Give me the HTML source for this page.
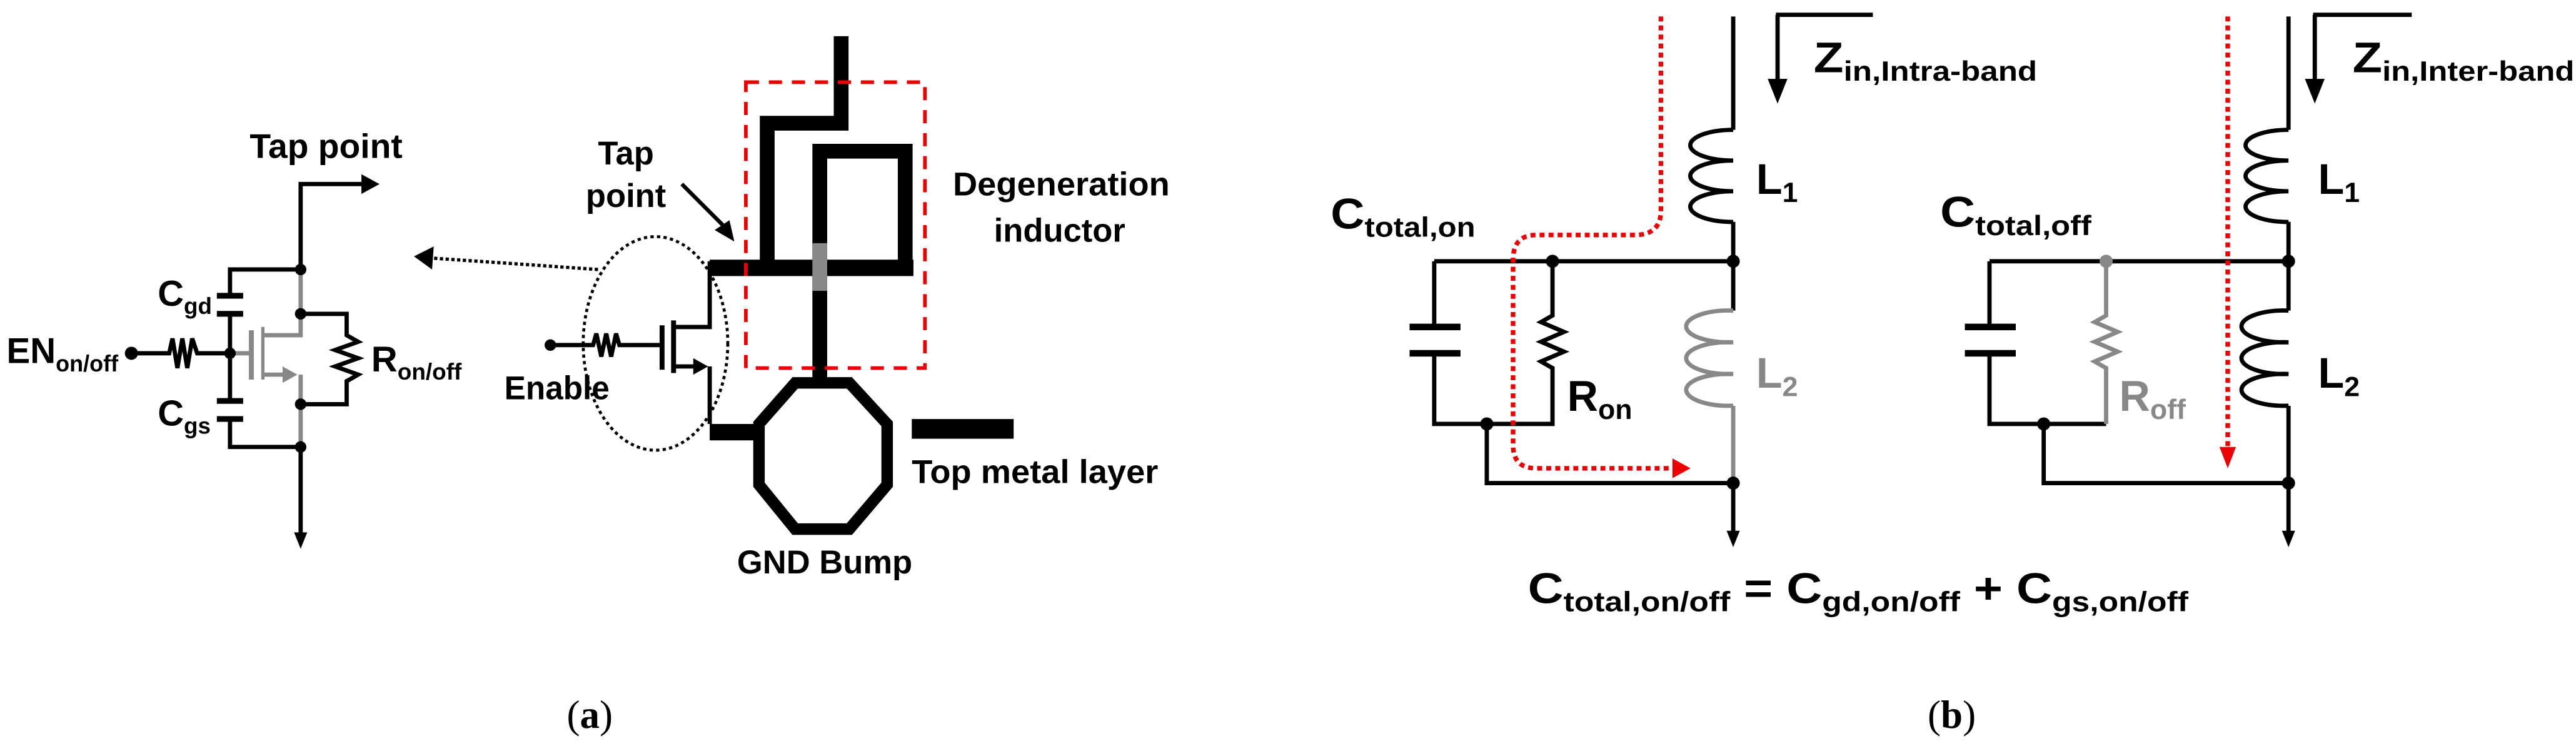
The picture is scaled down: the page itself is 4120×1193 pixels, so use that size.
<!DOCTYPE html>
<html><head><meta charset="utf-8"><style>
html,body{margin:0;padding:0;background:#fff;}
svg{display:block;}
text{font-family:"Liberation Sans",sans-serif;font-weight:bold;}
.cap{font-family:"Liberation Serif",serif;font-weight:normal;}
</style></head><body>
<svg width="4120" height="1193" viewBox="0 0 1568 454" xmlns="http://www.w3.org/2000/svg">
<g fill="none" stroke="#000" stroke-width="2.6">
<!-- ===== (a) left schematic ===== -->
<polyline points="183,164 183,112 222,112"/>
<path d="M220,106 L231,112 L220,118 Z" fill="#000" stroke="none"/>
<line x1="183" y1="164" x2="183" y2="191" stroke="#888"/>
<line x1="183" y1="246" x2="183" y2="272" stroke="#888"/>
<line x1="183" y1="272" x2="183" y2="325"/>
<path d="M179,324 L183,334 L187,324 Z" fill="#000" stroke="none"/>
<polyline points="183,191 211,191 211,204 218,208 204,213 218,218 204,223 218,228 211,232 211,246 183,246"/>
<polyline points="183,164 140,164 140,180"/>
<line x1="132" y1="180" x2="148" y2="180" stroke-width="3.5"/>
<line x1="132" y1="191" x2="148" y2="191" stroke-width="3.5"/>
<line x1="140" y1="191" x2="140" y2="244"/>
<line x1="132" y1="244" x2="148" y2="244" stroke-width="3.5"/>
<line x1="132" y1="255" x2="148" y2="255" stroke-width="3.5"/>
<polyline points="140,255 140,272 183,272"/>
<polyline points="80,215 103,215 105,206 108,224 111,206 114,224 117,206 120,215 140,215"/>
<g stroke="#888">
<line x1="140" y1="215" x2="153" y2="215"/>
<line x1="153" y1="201" x2="153" y2="231" stroke-width="3"/>
<line x1="160" y1="199" x2="160" y2="231" stroke-width="2"/>
<polyline points="160,204 183,204 183,191"/>
<polyline points="160,228 176,228"/>
<polyline points="183,228 183,246"/>
<path d="M172,223 L181,228 L172,233 Z" fill="#888" stroke="none"/>
</g>
<g fill="#000" stroke="none">
<circle cx="183" cy="164" r="3.5"/><circle cx="183" cy="191" r="3.5"/>
<circle cx="183" cy="246" r="3.5"/><circle cx="183" cy="272" r="3.5"/>
<circle cx="140" cy="215" r="3.5"/><circle cx="80" cy="215" r="4"/>
</g>
<line x1="364" y1="164" x2="262" y2="157" stroke-dasharray="2,1.5" stroke-width="2"/>
<path d="M264,150 L252,156 L263,164 Z" fill="#000" stroke="none"/>
<ellipse cx="399" cy="209" rx="44" ry="65" stroke-dasharray="2,2" stroke-width="1.8"/>
<polyline points="335,210 361,210 363,203 366,217 369,203 372,217 375,203 377,210 402,210"/>
<line x1="403" y1="198" x2="403" y2="225" stroke-width="3"/>
<line x1="410" y1="195" x2="410" y2="227" stroke-width="3"/>
<polyline points="410,199 432,199 432,159"/>
<polyline points="410,223 424,223"/>
<path d="M422,218 L431,223 L422,228 Z" fill="#000" stroke="none"/>
<polyline points="432,223 432,258"/>
<circle cx="335" cy="210" r="3.5" fill="#000" stroke="none"/>
<g stroke-width="9">
<polyline points="512,22 512,75 467,75 467,160"/>
<line x1="432" y1="163" x2="556" y2="163" stroke-width="10"/>
<polyline points="499,168 499,92 551,92 551,168"/>
<line x1="499" y1="168" x2="499" y2="233"/>
<line x1="432" y1="263" x2="462" y2="263" stroke-width="10"/>
<polygon points="484,233 517,233 540,258 540,295 517,322 484,322 462,295 462,258" stroke-width="7"/>
<line x1="499" y1="148" x2="499" y2="177" stroke="#888"/>
<line x1="555" y1="261" x2="617" y2="261" stroke-width="12"/>
</g>
<rect x="454" y="50" width="109" height="174" stroke="#e00" stroke-width="2.2" stroke-dasharray="8,6"/>
<line x1="415" y1="112" x2="441" y2="138" stroke-width="2.4"/>
<path d="M435,140 L447,147 L444,134 Z" fill="#000" stroke="none"/>

<!-- ===== (b) left circuit ===== -->
<line x1="1055" y1="10" x2="1055" y2="79"/>
<path d="M1055,79 a26,9.3 0 1,0 0,18.7 a26,9.3 0 1,0 0,18.7 a26,9.3 0 1,0 0,18.7"/>
<line x1="1055" y1="135" x2="1055" y2="189"/>
<path d="M1055,189 a26,9.7 0 1,0 0,19.3 a26,9.7 0 1,0 0,19.3 a26,9.7 0 1,0 0,19.3" stroke="#888"/>
<line x1="1055" y1="247" x2="1055" y2="294" stroke="#888"/>
<line x1="1055" y1="294" x2="1055" y2="325"/>
<path d="M1051,323 L1055,333 L1059,323 Z" fill="#000" stroke="none"/>
<polyline points="1082,9 1082,52"/><line x1="1081" y1="9" x2="1140" y2="9"/>
<path d="M1076,48 L1082,63 L1088,48 Z" fill="#000" stroke="none"/>
<polyline points="873,159 1055,159"/>
<polyline points="873,159 873,199"/>
<line x1="858" y1="199" x2="889" y2="199" stroke-width="4"/>
<line x1="858" y1="215" x2="889" y2="215" stroke-width="4"/>
<polyline points="873,215 873,258 945,258 945,224 938,220 952,214 938,208 952,202 938,196 945,192 945,159"/>
<polyline points="905,258 905,294 1055,294"/>
<g fill="#000" stroke="none">
<circle cx="1055" cy="159" r="4"/><circle cx="945" cy="159" r="4"/>
<circle cx="905" cy="258" r="4"/><circle cx="1055" cy="294" r="4"/>
</g>
<path d="M1011,10 L1011,128 Q1011,143 995,143 L935,143 Q921,143 921,158 L921,271 Q921,285 935,285 L1018,285" stroke="#e00" stroke-width="2.8" stroke-dasharray="3,2.5"/>
<path d="M1018,279 L1029,285 L1018,291 Z" fill="#e00" stroke="none"/>

<!-- ===== (b) right circuit ===== -->
<line x1="1393" y1="10" x2="1393" y2="79"/>
<path d="M1393,79 a26,9.3 0 1,0 0,18.7 a26,9.3 0 1,0 0,18.7 a26,9.3 0 1,0 0,18.7"/>
<line x1="1393" y1="135" x2="1393" y2="189"/>
<path d="M1393,189 a26,9.7 0 1,0 0,19.3 a26,9.7 0 1,0 0,19.3 a26,9.7 0 1,0 0,19.3"/>
<line x1="1393" y1="247" x2="1393" y2="325"/>
<path d="M1389,323 L1393,333 L1397,323 Z" fill="#000" stroke="none"/>
<polyline points="1409,9 1409,52"/><line x1="1408" y1="9" x2="1468" y2="9"/>
<path d="M1403,48 L1409,63 L1415,48 Z" fill="#000" stroke="none"/>
<polyline points="1211,159 1393,159"/>
<polyline points="1211,159 1211,199"/>
<line x1="1196" y1="199" x2="1227" y2="199" stroke-width="4"/>
<line x1="1196" y1="215" x2="1227" y2="215" stroke-width="4"/>
<polyline points="1211,215 1211,258 1282,258"/>
<polyline points="1282,258 1282,224 1275,220 1289,214 1275,208 1289,202 1275,196 1282,192 1282,159" stroke="#888"/>
<polyline points="1244,258 1244,294 1393,294"/>
<g fill="#000" stroke="none">
<circle cx="1393" cy="159" r="4"/><circle cx="1282" cy="159" r="4" fill="#888"/>
<circle cx="1244" cy="258" r="4"/><circle cx="1393" cy="294" r="4"/>
</g>
<line x1="1356" y1="10" x2="1356" y2="272" stroke="#e00" stroke-width="2.8" stroke-dasharray="3,2.5"/>
<path d="M1351,272 L1356,285 L1361,272 Z" fill="#e00" stroke="none"/>
</g>

<g fill="#000">
<text x="152" y="96" font-size="21" textLength="93" lengthAdjust="spacingAndGlyphs">Tap point</text>
<text x="96" y="186" font-size="22">C<tspan font-size="14" dy="5">gd</tspan></text>
<text x="96" y="259" font-size="22">C<tspan font-size="14" dy="5">gs</tspan></text>
<text x="4" y="221" font-size="22" textLength="68" lengthAdjust="spacingAndGlyphs">EN<tspan font-size="14" dy="5">on/off</tspan></text>
<text x="226" y="226" font-size="22" textLength="55" lengthAdjust="spacingAndGlyphs">R<tspan font-size="14" dy="5">on/off</tspan></text>
<text x="381" y="100" font-size="20" text-anchor="middle">Tap</text>
<text x="381" y="126" font-size="20" text-anchor="middle">point</text>
<text x="580" y="119" font-size="20" textLength="132" lengthAdjust="spacingAndGlyphs">Degeneration</text>
<text x="645" y="147" font-size="20" text-anchor="middle">inductor</text>
<text x="307" y="243" font-size="20" textLength="64" lengthAdjust="spacingAndGlyphs">Enable</text>
<text x="555" y="294" font-size="20" textLength="150" lengthAdjust="spacingAndGlyphs">Top metal layer</text>
<text x="502" y="349" font-size="20" text-anchor="middle">GND Bump</text>
<text class="cap" x="359" y="443" font-size="24" text-anchor="middle">(<tspan font-weight="bold">a</tspan>)</text>

<text x="1104" y="44" font-size="26" textLength="136" lengthAdjust="spacingAndGlyphs">Z<tspan font-size="17" dy="5">in,Intra-band</tspan></text>
<text x="1432" y="44" font-size="26" textLength="135" lengthAdjust="spacingAndGlyphs">Z<tspan font-size="17" dy="5">in,Inter-band</tspan></text>
<text x="1069" y="118" font-size="26">L<tspan font-size="17" dy="5">1</tspan></text>
<text x="1069" y="236" font-size="26" fill="#888">L<tspan font-size="17" dy="5">2</tspan></text>
<text x="1411" y="118" font-size="26">L<tspan font-size="17" dy="5">1</tspan></text>
<text x="1411" y="236" font-size="26">L<tspan font-size="17" dy="5">2</tspan></text>
<text x="810" y="139" font-size="26" textLength="88" lengthAdjust="spacingAndGlyphs">C<tspan font-size="17" dy="5">total,on</tspan></text>
<text x="1181" y="138" font-size="26" textLength="92" lengthAdjust="spacingAndGlyphs">C<tspan font-size="17" dy="5">total,off</tspan></text>
<text x="954" y="250" font-size="26">R<tspan font-size="17" dy="5">on</tspan></text>
<text x="1290" y="250" font-size="26" fill="#888">R<tspan font-size="17" dy="5">off</tspan></text>
<text x="930" y="367" font-size="26" textLength="402" lengthAdjust="spacingAndGlyphs">C<tspan font-size="17" dy="5">total,on/off</tspan><tspan dy="-5"> = C</tspan><tspan font-size="17" dy="5">gd,on/off</tspan><tspan dy="-5"> + C</tspan><tspan font-size="17" dy="5">gs,on/off</tspan></text>
<text class="cap" x="1188" y="443" font-size="24" text-anchor="middle">(<tspan font-weight="bold">b</tspan>)</text>
</g>
</svg>
</body></html>
